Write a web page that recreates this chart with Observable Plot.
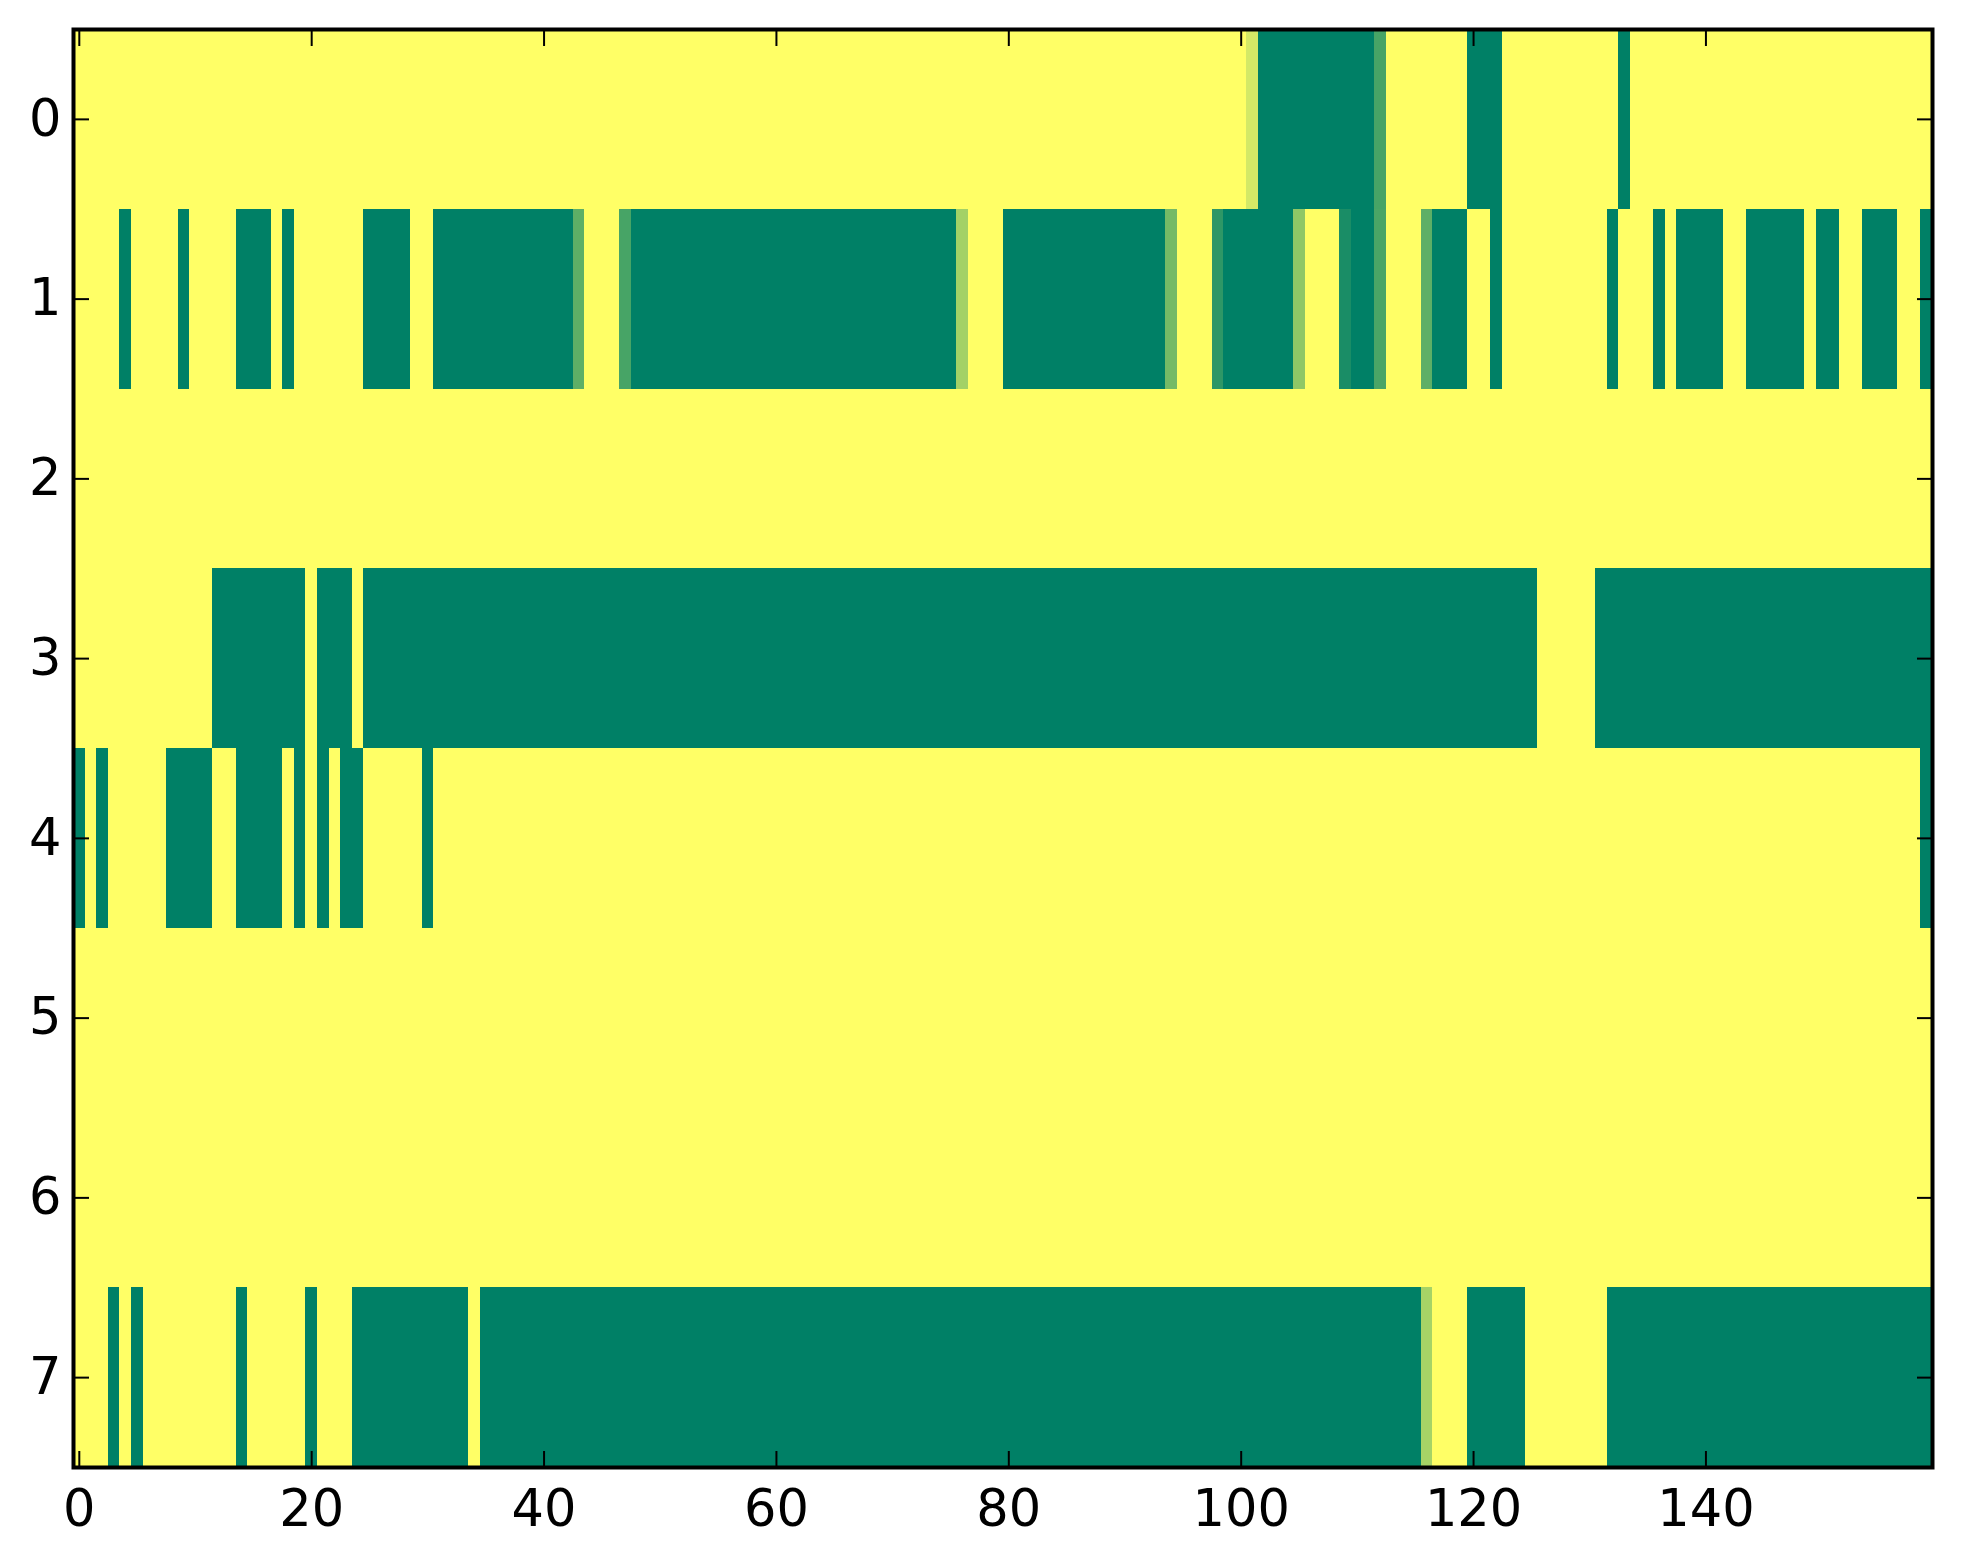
<!DOCTYPE html>
<html>
<head>
<meta charset="utf-8">
<script src="https://cdn.jsdelivr.net/npm/d3@7"></script>
<script src="https://cdn.jsdelivr.net/npm/@observablehq/plot@0.6"></script>
<style>
  html, body { margin: 0; padding: 0; background: #ffffff; }
  #chart { width: 1963px; height: 1564px; }
</style>
</head>
<body>
<div id="chart"></div>
<script>
// Row values (160 columns each) (0 = green, 1 = yellow)
const row0 = [
  1,1,1,1,1,1,1,1,1,1, 1,1,1,1,1,1,1,1,1,1, 1,1,1,1,1,1,1,1,1,1, 1,1,1,1,1,1,1,1,1,1,
  1,1,1,1,1,1,1,1,1,1, 1,1,1,1,1,1,1,1,1,1, 1,1,1,1,1,1,1,1,1,1, 1,1,1,1,1,1,1,1,1,1,
  1,1,1,1,1,1,1,1,1,1, 1,1,1,1,1,1,1,1,1,1, 1,0.83,0,0,0,0,0,0,0,0, 0,0,0.28,1,1,1,1,1,1,1,
  0,0,0,1,1,1,1,1,1,1, 1,1,1,0,1,1,1,1,1,1, 1,1,1,1,1,1,1,1,1,1, 1,1,1,1,1,1,1,1,1,1
];
const row1 = [
  1,1,1,1,0,1,1,1,1,0, 1,1,1,1,0,0,0,1,0,1, 1,1,1,1,1,0,0,0,0,1, 1,0,0,0,0,0,0,0,0,0,
  0,0,0,0.37,1,1,1,0.28,0,0, 0,0,0,0,0,0,0,0,0,0, 0,0,0,0,0,0,0,0,0,0, 0,0,0,0,0,0,0.64,1,1,1,
  0,0,0,0,0,0,0,0,0,0, 0,0,0,0,0.46,1,1,1,0.18,0, 0,0,0,0,0,0.56,1,1,1,0.1, 0,0,0.29,1,1,1,0.37,0,0,0,
  1,1,0,1,1,1,1,1,1,1, 1,1,0,1,1,1,0,1,0,0, 0,0,1,1,0,0,0,0,0,1, 0,0,1,1,0,0,0,1,1,0
];
const row2 = [
  1,1,1,1,1,1,1,1,1,1, 1,1,1,1,1,1,1,1,1,1, 1,1,1,1,1,1,1,1,1,1, 1,1,1,1,1,1,1,1,1,1,
  1,1,1,1,1,1,1,1,1,1, 1,1,1,1,1,1,1,1,1,1, 1,1,1,1,1,1,1,1,1,1, 1,1,1,1,1,1,1,1,1,1,
  1,1,1,1,1,1,1,1,1,1, 1,1,1,1,1,1,1,1,1,1, 1,1,1,1,1,1,1,1,1,1, 1,1,1,1,1,1,1,1,1,1,
  1,1,1,1,1,1,1,1,1,1, 1,1,1,1,1,1,1,1,1,1, 1,1,1,1,1,1,1,1,1,1, 1,1,1,1,1,1,1,1,1,1
];
const row3 = [
  1,1,1,1,1,1,1,1,1,1, 1,1,0,0,0,0,0,0,0,0, 1,0,0,0,1,0,0,0,0,0, 0,0,0,0,0,0,0,0,0,0,
  0,0,0,0,0,0,0,0,0,0, 0,0,0,0,0,0,0,0,0,0, 0,0,0,0,0,0,0,0,0,0, 0,0,0,0,0,0,0,0,0,0,
  0,0,0,0,0,0,0,0,0,0, 0,0,0,0,0,0,0,0,0,0, 0,0,0,0,0,0,0,0,0,0, 0,0,0,0,0,0,0,0,0,0,
  0,0,0,0,0,0,1,1,1,1, 1,0,0,0,0,0,0,0,0,0, 0,0,0,0,0,0,0,0,0,0, 0,0,0,0,0,0,0,0,0,0
];
const row4 = [
  0,1,0,1,1,1,1,1,0,0, 0,0,1,1,0,0,0,0,1,0, 1,0,1,0,0,1,1,1,1,1, 0,1,1,1,1,1,1,1,1,1,
  1,1,1,1,1,1,1,1,1,1, 1,1,1,1,1,1,1,1,1,1, 1,1,1,1,1,1,1,1,1,1, 1,1,1,1,1,1,1,1,1,1,
  1,1,1,1,1,1,1,1,1,1, 1,1,1,1,1,1,1,1,1,1, 1,1,1,1,1,1,1,1,1,1, 1,1,1,1,1,1,1,1,1,1,
  1,1,1,1,1,1,1,1,1,1, 1,1,1,1,1,1,1,1,1,1, 1,1,1,1,1,1,1,1,1,1, 1,1,1,1,1,1,1,1,1,0
];
const row5 = [
  1,1,1,1,1,1,1,1,1,1, 1,1,1,1,1,1,1,1,1,1, 1,1,1,1,1,1,1,1,1,1, 1,1,1,1,1,1,1,1,1,1,
  1,1,1,1,1,1,1,1,1,1, 1,1,1,1,1,1,1,1,1,1, 1,1,1,1,1,1,1,1,1,1, 1,1,1,1,1,1,1,1,1,1,
  1,1,1,1,1,1,1,1,1,1, 1,1,1,1,1,1,1,1,1,1, 1,1,1,1,1,1,1,1,1,1, 1,1,1,1,1,1,1,1,1,1,
  1,1,1,1,1,1,1,1,1,1, 1,1,1,1,1,1,1,1,1,1, 1,1,1,1,1,1,1,1,1,1, 1,1,1,1,1,1,1,1,1,1
];
const row6 = [
  1,1,1,1,1,1,1,1,1,1, 1,1,1,1,1,1,1,1,1,1, 1,1,1,1,1,1,1,1,1,1, 1,1,1,1,1,1,1,1,1,1,
  1,1,1,1,1,1,1,1,1,1, 1,1,1,1,1,1,1,1,1,1, 1,1,1,1,1,1,1,1,1,1, 1,1,1,1,1,1,1,1,1,1,
  1,1,1,1,1,1,1,1,1,1, 1,1,1,1,1,1,1,1,1,1, 1,1,1,1,1,1,1,1,1,1, 1,1,1,1,1,1,1,1,1,1,
  1,1,1,1,1,1,1,1,1,1, 1,1,1,1,1,1,1,1,1,1, 1,1,1,1,1,1,1,1,1,1, 1,1,1,1,1,1,1,1,1,1
];
const row7 = [
  1,1,1,0,1,0,1,1,1,1, 1,1,1,1,0,1,1,1,1,1, 0,1,1,1,0,0,0,0,0,0, 0,0,0,0,1,0,0,0,0,0,
  0,0,0,0,0,0,0,0,0,0, 0,0,0,0,0,0,0,0,0,0, 0,0,0,0,0,0,0,0,0,0, 0,0,0,0,0,0,0,0,0,0,
  0,0,0,0,0,0,0,0,0,0, 0,0,0,0,0,0,0,0,0,0, 0,0,0,0,0,0,0,0,0,0, 0,0,0,0,0,0,0.65,1,1,1,
  0,0,0,0,0,1,1,1,1,1, 1,1,0,0,0,0,0,0,0,0, 0,0,0,0,0,0,0,0,0,0, 0,0,0,0,0,0,0,0,0,0
];

const rows = [row0, row1, row2, row3, row4, row5, row6, row7];
const rowIndex = [0, 1, 2, 3, 4, 5, 6, 7];
const colIndex = row0.map((_, i) => i);
const xTicks = [0, 20, 40, 60, 80, 100, 120, 140];
const yTicks = [0, 1, 2, 3, 4, 5, 6, 7];
const colorRange = ["#008066", "#ffff66"]; // matplotlib "summer" endpoints

const table = rows.flatMap((vals, r) => vals.map((v, c) => ({row: rowIndex[r], col: colIndex[c], v})));

const chart = Plot.plot({
  width: 1963,
  height: 1564,
  marginLeft: 73,
  marginRight: 31,
  marginTop: 29,
  marginBottom: 97,
  style: {fontFamily: "'DejaVu Sans', sans-serif", fontSize: "51px", background: "#ffffff", color: "#000000", overflow: "visible"},
  x: {type: "band", domain: colIndex, padding: 0, round: false, label: null},
  y: {type: "band", domain: rowIndex, padding: 0, round: false, label: null},
  color: {type: "linear", domain: [0, 1], range: colorRange, interpolate: "rgb"},
  marks: [
    Plot.cell(table, {x: "col", y: "row", fill: "v", inset: 0, shapeRendering: "crispEdges"}),
    Plot.axisX(xTicks, {anchor: "bottom", tickSize: -16, tickPadding: 38, strokeWidth: 2, fontSize: 51, label: null}),
    Plot.axisX(xTicks, {anchor: "top", tickSize: -16, strokeWidth: 2, tickFormat: () => null, label: null}),
    Plot.axisY(yTicks, {anchor: "left", tickSize: -16, tickPadding: 28, strokeWidth: 2, fontSize: 51, label: null}),
    Plot.axisY(yTicks, {anchor: "right", tickSize: -16, strokeWidth: 2, tickFormat: () => null, label: null}),
    Plot.frame({stroke: "#000000", strokeWidth: 4})
  ]
});
document.getElementById("chart").appendChild(chart);
</script>
</body>
</html>
